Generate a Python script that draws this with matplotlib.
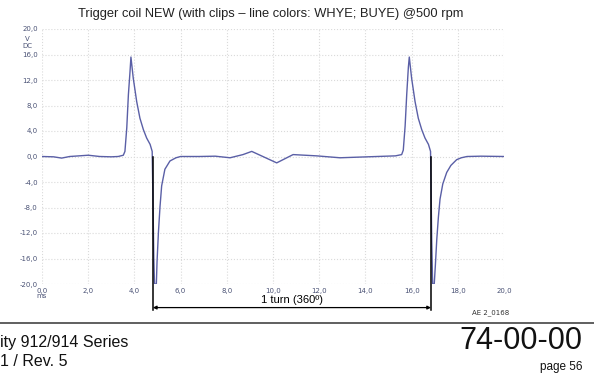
import matplotlib
matplotlib.use("Agg")
import matplotlib.pyplot as plt
from matplotlib.lines import Line2D

# scope trace, time in ms, voltage in V
t_ms = [0.0, 0.5, 0.85, 1.2, 2.0, 2.5, 3.0, 3.3, 3.52, 3.59, 3.67, 3.74, 3.81, 3.85,
        3.95, 4.1, 4.24, 4.39, 4.53, 4.68, 4.77, 4.8, 4.84, 4.87, 4.95, 4.98, 5.04, 5.11,
        5.18, 5.32, 5.54, 5.8, 6.0, 6.8, 7.5, 8.14, 8.7, 9.08, 10.16, 10.87,
        11.89, 12.9, 14.5, 15.3, 15.57, 15.64, 15.72, 15.79, 15.86, 15.9, 16.0,
        16.15, 16.29, 16.44, 16.58, 16.73, 16.82, 16.84, 16.87, 16.91, 16.98, 17.03,
        17.09, 17.16, 17.23, 17.35, 17.52, 17.7, 17.95, 18.15, 18.4, 19.0, 20.0]
volts = [0.0, -0.05, -0.25, 0.0, 0.2, 0.0, -0.05, 0.0, 0.2, 0.8, 4.5, 9.7, 13.3, 15.6,
         12.3, 8.6, 6.0, 4.2, 2.9, 1.9, 0.8, -6.0, -16.0, -20.0, -20.0, -16.5, -11.9, -7.8,
         -4.6, -2.0, -0.7, -0.2, 0.0, 0.0, 0.05, -0.2, 0.3, 0.8, -1.0, 0.3,
         0.1, -0.2, 0.0, 0.1, 0.3, 1.0, 4.8, 9.8, 14.0, 15.6, 12.3, 8.6, 6.0, 4.2,
         2.9, 1.9, 0.8, -4.0, -13.0, -20.0, -20.0, -17.0, -13.0, -9.5, -6.7, -4.3, -2.5,
         -1.4, -0.5, -0.2, 0.0, 0.05, 0.0]

x_ticks = [0, 2, 4, 6, 8, 10, 12, 14, 16, 18, 20]
y_ticks = [-20, -16, -12, -8, -4, 0, 4, 8, 12, 16, 20]
turn_start = 4.8
turn_end = 16.84

title = "Trigger coil NEW (with clips \u2013 line colors: WHYE; BUYE) @500 rpm"

tick_col = "#4a5275"
trace_col = "#5a5fa6"

fig = plt.figure(figsize=(5.94, 3.77), dpi=100)
ax = fig.add_axes([42 / 594, 93 / 377, 462 / 594, 255 / 377])

ax.plot(t_ms, volts, color=trace_col, lw=1.0)
ax.set_xlim(0, 20)
ax.set_ylim(-20, 20)
ax.set_xticks(x_ticks)
ax.set_yticks(y_ticks)
ax.set_xticklabels([f"{v:.1f}".replace(".", ",") for v in x_ticks])
ax.set_yticklabels([f"{v:.1f}".replace(".", ",") for v in y_ticks])
ax.tick_params(length=0, labelsize=5, labelcolor=tick_col, pad=3)
ax.grid(True, color="#dadada", ls=":", lw=0.8)
for s in ax.spines.values():
    s.set_visible(False)

ax.text(-0.55, 18.5, "V", fontsize=5, color=tick_col, ha="right", va="center")
ax.text(-0.4, 17.4, "DC", fontsize=5, color=tick_col, ha="right", va="center")
ax.text(0.0, -21.9, "ms", fontsize=5, color=tick_col, ha="center", va="center")

fig.text(0.455, 0.963, title, fontsize=9.3, family="Liberation Sans",
         ha="center", va="center", color="#222222")

# one-turn markers and dimension arrow
for xm in (turn_start, turn_end):
    ax.plot([xm, xm], [0, -24.1], color="black", lw=1.1, clip_on=False)
ax.annotate("", xy=(turn_start, -23.7), xytext=(turn_end, -23.7),
            arrowprops=dict(arrowstyle="<|-|>", color="black", lw=0.9,
                            mutation_scale=5, shrinkA=0, shrinkB=0),
            annotation_clip=False)
ax.text((turn_start + turn_end) / 2, -22.5, "1 turn (360\u00ba)", fontsize=8,
        family="Liberation Sans", ha="center", va="center")
ax.text(19.4, -24.5, "AE 2_0168", fontsize=5, color="#333333", ha="center", va="center")

# footer
fig.add_artist(Line2D([0, 1], [1 - 323 / 377] * 2, color="#444444", lw=1.2))
fig.text(0.0, 1 - 343 / 377, "ity 912/914 Series", fontsize=11.5, family="Liberation Sans",
         ha="left", va="center", color="#111111")
fig.text(0.0, 1 - 362 / 377, "1 / Rev. 5", fontsize=11.5, family="Liberation Sans",
         ha="left", va="center", color="#111111")
fig.text(582 / 594, 1 - 341 / 377, "74-00-00", fontsize=22, family="Liberation Sans",
         ha="right", va="center", color="#111111")
fig.text(582 / 594, 1 - 367 / 377, "page 56", fontsize=8.5, family="Liberation Sans",
         ha="right", va="center", color="#111111")

fig.savefig("out.png", dpi=100)
